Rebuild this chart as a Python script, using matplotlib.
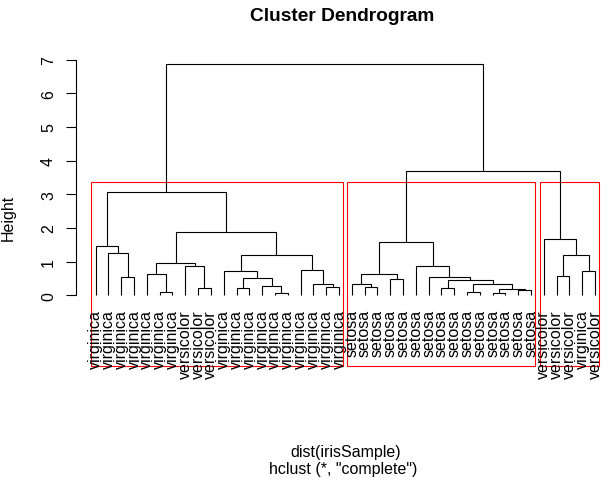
import matplotlib
matplotlib.use("Agg")
import matplotlib.pyplot as plt
from matplotlib.patches import Rectangle

# ---- data ----
labels = (["virginica"] * 7 + ["versicolor"] * 3 + ["virginica"] * 10 +
          ["setosa"] * 15 + ["versicolor"] * 3 + ["virginica", "versicolor"])

# R-style merge matrix (negative = leaf in plotted order, positive = earlier merge)
merge_a = [-15, -32, -6, -30, -34, 2, -9, -12, -28, -22, -19, -14, -18, -21, 4,
           9, -24, 8, -3, -27, -37, -5, 14, -11, -39, -17, -8, -26, 22, 24,
           21, -2, -1, 23, -36, 29, 33, 34, 37]
merge_b = [-16, -33, -7, -31, -35, 5, -10, -13, -29, -23, -20, 1, 11, 10, 6,
           15, -25, 12, -4, 16, -38, 3, 17, 18, -40, 13, 7, 20, 27, 26,
           25, 19, 32, 28, 31, 30, 36, 35, 38]
heights = [0.08, 0.08, 0.10, 0.11, 0.17, 0.20, 0.23, 0.23, 0.23, 0.26, 0.26,
           0.28, 0.35, 0.35, 0.35, 0.44, 0.47, 0.50, 0.53, 0.53, 0.56, 0.62,
           0.62, 0.71, 0.71, 0.76, 0.87, 0.88, 0.97, 1.20, 1.21, 1.27, 1.45,
           1.57, 1.66, 1.87, 3.06, 3.68, 6.87]
y_ticks = [0, 1, 2, 3, 4, 5, 6, 7]
n_groups = 3

title = "Cluster Dendrogram"
xlab1 = "dist(irisSample)"
xlab2 = 'hclust (*, "complete")'
ylab = "Height"

# ---- layout ----
W, H = 610, 481
FONT = "Liberation Sans"
fs = 16 * 72 / 100.0
fig = plt.figure(figsize=(W / 100, H / 100), dpi=100)
px0, unit_x = 75.67, 12.806
x_lo = -0.56
x_hi = x_lo + (W - px0) / unit_x
y0px, unit_y = 296.3, 33.67
top_px, bot_px = 40.0, 367.3
y_hi = (y0px - top_px) / unit_y
y_lo = (y0px - bot_px) / unit_y
ax = fig.add_axes([px0 / W, (H - bot_px) / H, (W - px0) / W, (bot_px - top_px) / H])
ax.set_xlim(x_lo, x_hi)
ax.set_ylim(y_lo, y_hi)

lw = 0.8
node_x, node_y = [], []
leaves_of = []


def info(c):
    if c < 0:
        return float(-c), 0.0, [-c]
    return node_x[c - 1], node_y[c - 1], leaves_of[c - 1]


for a, b, h in zip(merge_a, merge_b, heights):
    xa, ya, la = info(a)
    xb, yb, lb = info(b)
    ax.plot([xa, xa, xb, xb], [ya, h, h, yb], color="black", lw=lw,
            solid_capstyle="butt", solid_joinstyle="miter", clip_on=False)
    node_x.append((xa + xb) / 2)
    node_y.append(h)
    leaves_of.append(la + lb)

# leaf labels
ylab_pos = (y0px - 310.0) / unit_y
for i, lab in enumerate(labels):
    ax.text(i + 1, ylab_pos, lab, rotation=90, ha="center", va="top",
            fontsize=fs, family=FONT, clip_on=False)

# rect.hclust boxes
cut = (heights[-n_groups] + heights[-n_groups + 1]) / 2
groups = []


def descend(c):
    if c > 0 and heights[c - 1] > cut:
        descend(merge_a[c - 1])
        descend(merge_b[c - 1])
    else:
        groups.append(info(c)[2])


descend(len(heights))
for g in groups:
    lo, hi = min(g), max(g)
    ax.add_patch(Rectangle((lo - 0.34, y_lo), (hi + 0.33) - (lo - 0.34), cut - y_lo,
                           fill=False, edgecolor="#ff0000", lw=lw, clip_on=False))

# axes styling
for s in ["top", "right", "bottom"]:
    ax.spines[s].set_visible(False)
ax.spines["left"].set_bounds(0, 7)
ax.spines["left"].set_linewidth(lw)
ax.set_xticks([])
ax.set_yticks(y_ticks)
ax.set_yticklabels([str(t) for t in y_ticks], rotation=90, va="center",
                   fontsize=fs, family=FONT)
ax.tick_params(axis="y", length=9.6 * 0.72, width=lw, pad=7.2)

fig.text(8.5 / W, 1 - 218.3 / H, ylab, rotation=90, ha="center", va="center",
         fontsize=fs, family=FONT)
fig.text(342.5 / W, 1 - 21.0 / H, title, ha="center", va="baseline",
         fontsize=fs * 1.2, family=FONT, weight="bold")
fig.text(345.3 / W, 1 - 457.5 / H, xlab1, ha="center", va="baseline",
         fontsize=fs, family=FONT)
fig.text(343.0 / W, 1 - 474.3 / H, xlab2, ha="center", va="baseline",
         fontsize=fs, family=FONT)

fig.savefig("out.png", dpi=100)
